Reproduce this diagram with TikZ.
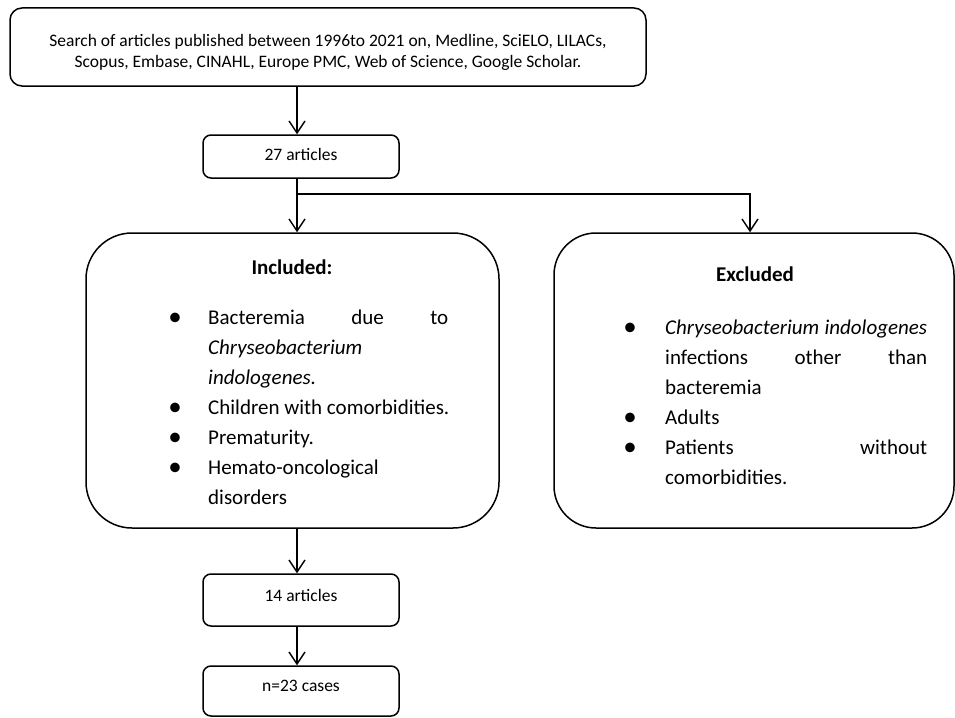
\documentclass[tikz,border=0pt]{standalone}
\usepackage{fontspec}
\setmainfont{Carlito}
\usetikzlibrary{arrows.meta}
\begin{document}
\begin{tikzpicture}[x=1pt,y=-1pt,
  smallbox/.style={draw=black, line width=1.5pt, rounded corners=8pt, minimum width=196pt, inner sep=0pt, font=\fontsize{17.5}{21}\selectfont},
  bigbox/.style={draw=black, line width=1.5pt, minimum height=295pt, inner sep=0pt},
  arr/.style={line width=1.4pt, -{Straight Barb[length=12pt,width=16pt,line width=1.4pt]}},
  li/.style={anchor=base west, font=\fontsize{21}{30}\selectfont, inner sep=0pt},
  bul/.style={anchor=base, font=\fontsize{27}{30}\selectfont, inner sep=0pt},
  ttl/.style={anchor=base, font=\fontsize{21}{30}\selectfont\bfseries, inner sep=0pt}]
\useasboundingbox (0,0) rectangle (955,717);

\node[draw=black, line width=1.5pt, rounded corners=12pt, minimum width=636pt, minimum height=78pt, inner sep=0pt] (search) at (328,47) {};
\node[align=center, inner sep=0pt, font=\fontsize{17.5}{21}\selectfont] (searchtxt) at (328,52)
  {Search of articles published between 1996to 2021 on, Medline, SciELO, LILACs,\\Scopus, Embase, CINAHL, Europe PMC, Web of Science, Google Scholar.};

\node[smallbox, minimum height=43pt] (a27) at (301,156.5) {\raisebox{-4pt}[0pt][0pt]{27 articles}};
\node[bigbox, rounded corners=46pt, minimum width=413pt] (inc) at (292.5,380.5) {};
\node[bigbox, rounded corners=42pt, minimum width=400pt] (exc) at (754,380.5) {};
\node[smallbox, minimum height=52pt] (a14) at (301,600) {\raisebox{-1pt}[0pt][0pt]{14 articles}};
\node[smallbox, minimum height=50pt] (a23) at (301,691) {\raisebox{0pt}[0pt][0pt]{n=23 cases}};

% Included content
\node[ttl] (inct) at (292,274) {Included:};
\node[bul] (ib1) at (175,325.5) {•};
\node[li] (i1) at (208,324) {\makebox[240pt][s]{Bacteremia due to}};
\node[li] (i2) at (208,354) {\itshape Chryseobacterium};
\node[li] (i3) at (208,384) {\itshape indologenes.};
\node[bul] (ib2) at (175,415.5) {•};
\node[li] (i4) at (208,414) {Children with comorbidities.};
\node[bul] (ib3) at (175,445.5) {•};
\node[li] (i5) at (208,444) {Prematurity.};
\node[bul] (ib4) at (175,475.5) {•};
\node[li] (i6) at (208,474) {Hemato-oncological};
\node[li] (i7) at (208,504) {disorders};

% Excluded content
\node[ttl] (exct) at (755,281) {Excluded};
\node[bul] (eb1) at (630,335.5) {•};
\node[li] (e1) at (665,334) {\makebox[262pt][s]{\itshape Chryseobacterium indologenes}};
\node[li] (e2) at (665,364) {\makebox[262pt][s]{infections other than}};
\node[li] (e3) at (665,394) {bacteremia};
\node[bul] (eb2) at (630,425.5) {•};
\node[li] (e4) at (665,424) {Adults};
\node[bul] (eb3) at (630,455.5) {•};
\node[li] (e5) at (665,454) {\makebox[262pt][s]{Patients without}};
\node[li] (e6) at (665,484) {comorbidities.};

% connectors
\coordinate (sp) at (297,0);
\coordinate (br) at (297,194);
\coordinate (ex) at (750,0);
\draw[arr] (sp |- search.south) -- (sp |- a27.north);
\draw[arr] (sp |- a27.south) -- (sp |- inc.north);
\draw[arr] (br) -| (ex |- exc.north);
\draw[arr] (sp |- inc.south) -- (sp |- a14.north);
\draw[arr] (sp |- a14.south) -- (sp |- a23.north);
\end{tikzpicture}
\end{document}
